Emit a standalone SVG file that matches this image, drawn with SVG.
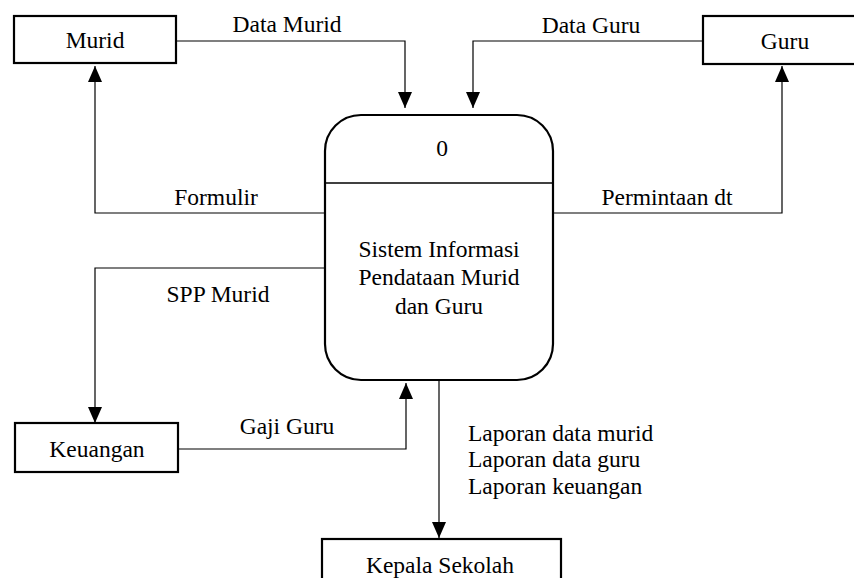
<svg xmlns="http://www.w3.org/2000/svg" width="854" height="578" viewBox="0 0 854 578">
<style>
text{font-family:"Liberation Serif","Times New Roman",serif;font-size:23.5px;fill:#000}
.c{text-anchor:middle}
.box{fill:#fff;stroke:#000;stroke-width:2.2}
.ln{fill:none;stroke:#000;stroke-width:1.2}
</style>
<defs>
<marker id="ah" markerUnits="userSpaceOnUse" markerWidth="16" markerHeight="16" viewBox="0 0 16 14" refX="16" refY="7" orient="auto">
<path d="M0,0 L16,7 L0,14 Z" fill="#000"/>
</marker>
</defs>
<rect width="854" height="578" fill="#fff"/>
<g id="connectors">
<polyline class="ln" points="176,41 405,41 405,108" marker-end="url(#ah)"/>
<polyline class="ln" points="703,41 473,41 473,108" marker-end="url(#ah)"/>
<polyline class="ln" points="325,213 95,213 95,66" marker-end="url(#ah)"/>
<polyline class="ln" points="553,213 782,213 782,66" marker-end="url(#ah)"/>
<polyline class="ln" points="325,268 95,268 95,423" marker-end="url(#ah)"/>
<polyline class="ln" points="178,449 406,449 406,383" marker-end="url(#ah)"/>
<polyline class="ln" points="439,380 439,538" marker-end="url(#ah)"/>
<text class="c" x="287" y="32">Data Murid</text>
<text class="c" x="591" y="33">Data Guru</text>
<text class="c" x="216" y="205">Formulir</text>
<text class="c" x="667" y="205">Permintaan dt</text>
<text class="c" x="218" y="302">SPP Murid</text>
<text class="c" x="287" y="434">Gaji Guru</text>
<text x="468" y="441">Laporan data murid</text>
<text x="468" y="467">Laporan data guru</text>
<text x="468" y="494">Laporan keuangan</text>
</g>
<g id="murid">
<rect class="box" x="14" y="16" width="162" height="47"/>
<text class="c" x="95" y="48">Murid</text>
</g>
<g id="guru">
<rect class="box" x="703" y="16" width="160" height="48"/>
<text class="c" x="785" y="49">Guru</text>
</g>
<g id="proses">
<rect class="box" x="325" y="115" width="228" height="265" rx="36" ry="36"/>
<line x1="325" y1="183" x2="553" y2="183" stroke="#000" stroke-width="1.5"/>
<text class="c" x="442" y="156">0</text>
<text class="c" x="439" y="257">Sistem Informasi</text>
<text class="c" x="439" y="285">Pendataan Murid</text>
<text class="c" x="439" y="314">dan Guru</text>
</g>
<g id="keuangan">
<rect class="box" x="15" y="423" width="163" height="49"/>
<text class="c" x="97" y="457">Keuangan</text>
</g>
<g id="kepala">
<rect class="box" x="322" y="539" width="239" height="50"/>
<text class="c" x="440" y="573">Kepala Sekolah</text>
</g>
</svg>
